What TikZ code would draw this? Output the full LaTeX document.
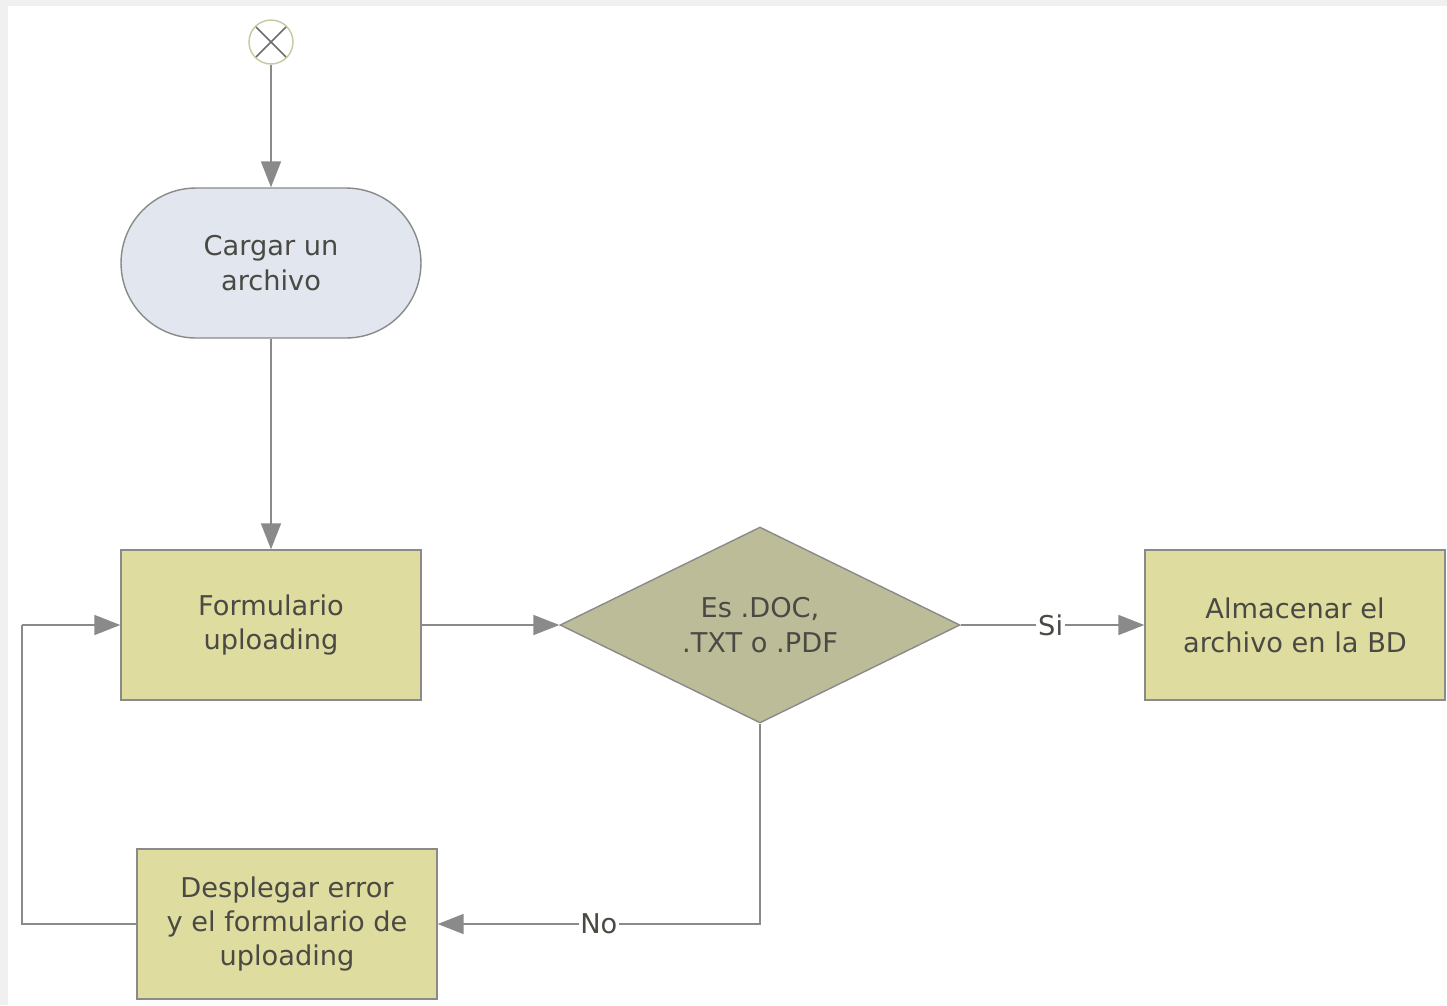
\documentclass[tikz,border=0pt]{standalone}
\usepackage{fontspec}
\setmainfont{DejaVu Sans}
\usetikzlibrary{shapes.geometric,arrows.meta}

\definecolor{linegray}{HTML}{8A8A8A}
\definecolor{textgray}{HTML}{4A4A44}
\definecolor{boxfill}{HTML}{DFDC9F}
\definecolor{decfill}{HTML}{BDBC99}
\definecolor{stadfill}{HTML}{E2E6EE}
\definecolor{startring}{HTML}{C9C7A0}

\begin{document}
\begin{tikzpicture}[x=0.02cm,y=-0.02cm,
    every node/.style={align=center,text=textgray,font=\fontsize{15.5}{19.5}\selectfont},
    flow/.style={draw=linegray,line width=0.9pt,-{Triangle[length=0.52cm,width=0.4cm]}},
    plain/.style={draw=linegray,line width=0.9pt},
    procbox/.style={rectangle,draw=linegray,fill=boxfill,line width=0.8pt,minimum width=6cm,minimum height=3cm},
    lbl/.style={fill=white,inner sep=1pt}]
    % background with the grey edge at top and left
    \fill[gray!12] (0,0) rectangle (1447,1005);
    \fill[white] (8,6) rectangle (1447,1005);
    \useasboundingbox (0,0) rectangle (1447,1005);

    \node[circle,draw=startring,fill=white,line width=0.8pt,minimum size=0.88cm,inner sep=0pt,
        path picture={\draw[textgray!80,line width=0.9pt] (path picture bounding box.north west) -- (path picture bounding box.south east)
            (path picture bounding box.north east) -- (path picture bounding box.south west);}] (start) at (271,42) {};
    \node[rectangle,rounded corners=1.5cm,draw=linegray,fill=stadfill,line width=0.8pt,minimum width=6cm,minimum height=3cm] (cargar) at (271,263) {Cargar un\\archivo};
    \node[procbox] (form) at (271,625) {Formulario\\uploading};
    \node[diamond,draw=linegray,fill=decfill,line width=0.8pt,aspect=2,inner sep=0pt,minimum width=8cm,minimum height=3.92cm] (tipo) at (760,625) {Es .DOC,\\.TXT o .PDF};
    \node[procbox] (guardar) at (1295,625) {Almacenar el\\archivo en la BD};
    \node[procbox] (error) at (287,924) {Desplegar error\\y el formulario de\\uploading};
    \coordinate (vuelta) at (22,625);

    \draw[flow] (start) -- (cargar);
    \draw[flow] (cargar) -- (form);
    \draw[flow] (form) -- (tipo);
    \draw[flow] (tipo) -- node[lbl,pos=0.49]{Si} (guardar);
    \draw[flow] (tipo.south) |- node[lbl,pos=0.75]{No} (error.east);
    \draw[plain] (error.west) -| (vuelta);
    \draw[flow] (vuelta) -- (form.west);
\end{tikzpicture}
\end{document}
